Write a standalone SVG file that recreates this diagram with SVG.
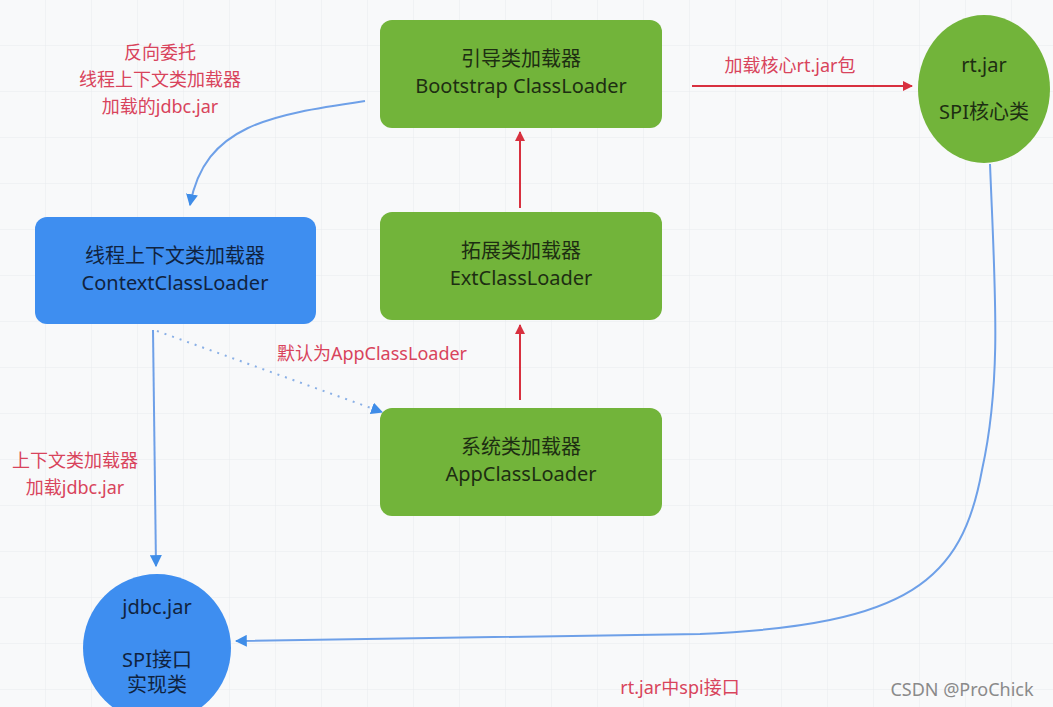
<svg xmlns="http://www.w3.org/2000/svg" width="1053" height="707" viewBox="0 0 1053 707">
<defs>
<pattern id="grid" width="46" height="46" patternUnits="userSpaceOnUse" x="0" y="0">
<path d="M46 0 V46 M0 46 H46" fill="none" stroke="#e9ebee" stroke-width="1"/>
</pattern>
<marker id="red" viewBox="0 0 10 10" refX="9" refY="5" markerWidth="5" markerHeight="5" orient="auto" markerUnits="strokeWidth">
<path d="M0,0 L10,5 L0,10 z" fill="#d8303f"/>
</marker>
<marker id="blue" viewBox="0 0 10 10" refX="9" refY="5" markerWidth="6" markerHeight="6" orient="auto" markerUnits="strokeWidth">
<path d="M0,0 L10,5 L0,10 z" fill="#3f8de8"/>
</marker>
<style>
.green{fill:#72b43a}
.blue{fill:#3e8ef0}
.t{font-family:"Noto Sans","Noto Sans CJK SC",sans-serif;font-size:20px;text-anchor:middle;fill:#1d2e12}
.tb{font-family:"Noto Sans","Noto Sans CJK SC",sans-serif;font-size:20px;text-anchor:middle;fill:#10233f}
.lbl{font-family:"Noto Sans","Noto Sans CJK SC",sans-serif;font-size:18px;text-anchor:middle;fill:#d8445c}
.rl{fill:none;stroke:#d8303f;stroke-width:2}
.bl{fill:none;stroke:#6ea0e8;stroke-width:2}
</style>
</defs>
<rect width="1053" height="707" fill="#f8f9fa"/>
<rect width="1053" height="707" fill="url(#grid)"/>

<g id="connectors">
<path class="rl" d="M520,208 V132" marker-end="url(#red)"/>
<path class="rl" d="M520,400 V325" marker-end="url(#red)"/>
<path class="rl" d="M692,86 H912" marker-end="url(#red)"/>
<path class="bl" d="M365,101 C270,115 205,125 190,205" marker-end="url(#blue)"/>
<path class="bl" d="M153,330 L156,566" marker-end="url(#blue)"/>
<path d="M157,331 L382,412" fill="none" stroke="#8ab0e6" stroke-width="2" stroke-dasharray="2,6" marker-end="url(#blue)"/>
<path class="bl" d="M990,164 C995,290 1002,380 982,470 C962,580 910,625 700,634 L236,641" marker-end="url(#blue)"/>
<text class="lbl" x="790" y="72">加载核心rt.jar包</text>
<text class="lbl" x="372" y="360">默认为AppClassLoader</text>
</g>

<g id="labels">
<text class="lbl" x="160" y="59">反向委托</text>
<text class="lbl" x="160" y="86">线程上下文类加载器</text>
<text class="lbl" x="160" y="113">加载的jdbc.jar</text>
<text class="lbl" x="75" y="467">上下文类加载器</text>
<text class="lbl" x="75" y="494">加载jdbc.jar</text>
<text class="lbl" x="680" y="694">rt.jar中spi接口</text>
</g>

<g id="bootstrap">
<rect class="green" x="380" y="20" width="282" height="108" rx="12"/>
<text class="t" x="521" y="66">引导类加载器</text>
<text class="t" x="521" y="93">Bootstrap ClassLoader</text>
</g>
<g id="ext">
<rect class="green" x="380" y="212" width="282" height="108" rx="12"/>
<text class="t" x="521" y="258">拓展类加载器</text>
<text class="t" x="521" y="285">ExtClassLoader</text>
</g>
<g id="app">
<rect class="green" x="380" y="408" width="282" height="108" rx="12"/>
<text class="t" x="521" y="454">系统类加载器</text>
<text class="t" x="521" y="481">AppClassLoader</text>
</g>
<g id="context">
<rect class="blue" x="35" y="217" width="281" height="107" rx="12"/>
<text class="tb" x="175" y="263">线程上下文类加载器</text>
<text class="tb" x="175" y="290">ContextClassLoader</text>
</g>
<g id="rtjar">
<ellipse class="green" cx="984" cy="89" rx="66" ry="74"/>
<text class="t" x="984" y="72">rt.jar</text>
<text class="t" x="984" y="119">SPI核心类</text>
</g>
<g id="jdbcjar">
<circle class="blue" cx="157" cy="648" r="74"/>
<text class="tb" x="157" y="614">jdbc.jar</text>
<text class="tb" x="157" y="667">SPI接口</text>
<text class="tb" x="157" y="692">实现类</text>
</g>
<text x="962" y="696" font-family="'Noto Sans',sans-serif" font-size="18" text-anchor="middle" fill="#8a8a8a">CSDN @ProChick</text>
</svg>
